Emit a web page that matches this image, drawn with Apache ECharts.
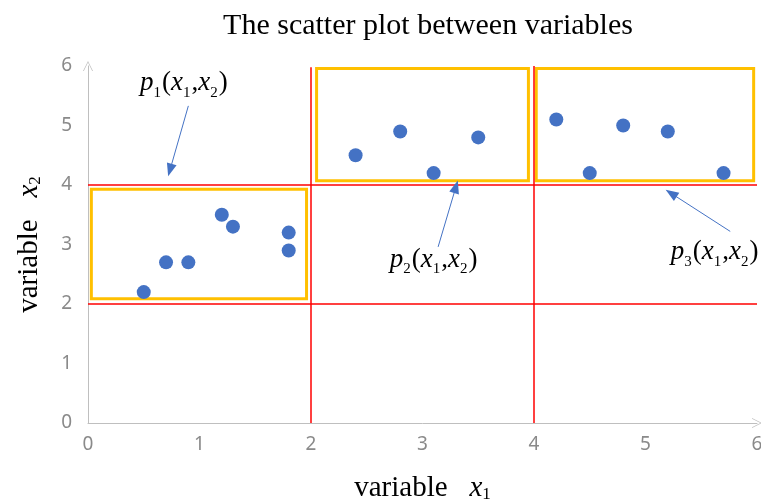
<!DOCTYPE html>
<html>
<head>
<meta charset="utf-8">
<script src="https://cdn.jsdelivr.net/npm/echarts@6/dist/echarts.min.js"></script>
<style>html,body{margin:0;padding:0;background:#fff}#c{width:761px;height:499px}</style>
</head>
<body>
<div id="c"></div>
<script>
// Data points
const x1Values = [0.5, 0.7, 0.9, 1.2, 1.3, 1.8, 1.8, 2.4, 2.8, 3.1, 3.5, 4.2, 4.5, 4.8, 5.2, 5.7];
const x2Values = [2.2, 2.7, 2.7, 3.5, 3.3, 3.2, 2.9, 4.5, 4.9, 4.2, 4.8, 5.1, 4.2, 5.0, 4.9, 4.2];
const xTicks = [0, 1, 2, 3, 4, 5, 6];
const yTicks = [0, 1, 2, 3, 4, 5, 6];
// Red partition lines [x1,y1,x2,y2]
const redLines = [[2, 0, 2, 5.98], [4, 0, 4, 6], [0, 4, 6, 4], [0, 2, 6, 2]];
// Yellow boxes [xmin, ymin, xmax, ymax]
const boxes = [[0.03, 2.09, 1.96, 3.93], [2.05, 4.07, 3.95, 5.96], [4.02, 4.07, 5.97, 5.96]];
// Annotation labels and arrows
const labelNames = ['1', '2', '3'];
const labelPos = [[0.86, 5.70], [3.10, 2.74], [5.62, 2.86]];
const arrows = [[0.90, 5.33, 0.735, 4.25], [3.14, 2.96, 3.30, 3.97], [5.76, 3.22, 5.23, 3.86]];

const serif = 'Liberation Serif';
const rich = {
  i: {fontFamily: serif, fontStyle: 'italic', fontSize: 27, color: '#000', textBorderWidth: 0},
  s: {fontFamily: serif, fontSize: 15, color: '#000', verticalAlign: 'bottom', padding: [0, 1, -4, 0], textBorderWidth: 0},
  n: {fontFamily: serif, fontSize: 27, color: '#000', textBorderWidth: 0}
};
const richName = {
  t: {fontFamily: serif, fontSize: 29, color: '#000'},
  i: {fontFamily: serif, fontStyle: 'italic', fontSize: 29, color: '#000'},
  s: {fontFamily: serif, fontSize: 17, color: '#000', verticalAlign: 'bottom'}
};

const chart = echarts.init(document.getElementById('c'), null, {renderer: 'canvas'});
const chevron = 'path://M0,10 L5,0 L10,10 L9.2,10 L5,1.6 L0.8,10 Z';
chart.setOption({
  animation: false,
  title: {
    text: 'The scatter plot between variables',
    left: 423, top: 6, textAlign: 'center',
    textStyle: {fontFamily: serif, fontSize: 30, fontWeight: 'normal', color: '#000'}
  },
  grid: {left: 88, right: 4, top: 66, bottom: 76, outerBoundsMode: 'none', containLabel: false},
  xAxis: {
    type: 'value', min: xTicks[0], max: xTicks[xTicks.length - 1], interval: 1,
    name: '{t|variable   }{i|x}{s|1}', nameLocation: 'middle', nameGap: 51,
    nameTextStyle: {rich: richName},
    axisLine: {show: true, symbol: ['none', chevron], symbolSize: [14, 10], lineStyle: {color: '#BFBFBF', width: 1}},
    axisTick: {show: false},
    splitLine: {show: false},
    axisLabel: {color: '#8A8A8A', fontSize: 19, fontFamily: 'Noto Sans', margin: 12}
  },
  yAxis: {
    type: 'value', min: yTicks[0], max: yTicks[yTicks.length - 1], interval: 1,
    name: '{t|variable   }{i|x}{s|2}', nameLocation: 'middle', nameGap: 44,
    nameTextStyle: {rich: richName},
    axisLine: {show: true, symbol: ['none', chevron], symbolSize: [14, 10], lineStyle: {color: '#BFBFBF', width: 1}},
    axisTick: {show: false},
    splitLine: {show: false},
    axisLabel: {color: '#8A8A8A', fontSize: 19, fontFamily: 'Noto Sans', margin: 16}
  },
  series: [
    {
      type: 'scatter', silent: true, symbolSize: 0, data: [],
      markLine: {
        silent: true, symbol: ['none', 'none'], label: {show: false},
        lineStyle: {color: '#FF0000', width: 1.5, type: 'solid'},
        data: redLines.map(l => [{coord: [l[0], l[1]]}, {coord: [l[2], l[3]]}])
      },
      markArea: {
        silent: true,
        itemStyle: {color: 'rgba(0,0,0,0)', borderColor: '#FFC000', borderWidth: 3},
        data: boxes.map(b => [{coord: [b[0], b[1]]}, {coord: [b[2], b[3]]}])
      }
    },
    {
      type: 'scatter', silent: true, symbolSize: 0, data: [],
      markLine: {
        silent: true, symbol: ['none', 'triangle'], symbolSize: [10, 13], label: {show: false},
        lineStyle: {color: '#4472C4', width: 1, type: 'solid'},
        itemStyle: {color: '#4472C4'},
        data: arrows.map(a => [{coord: [a[0], a[1]]}, {coord: [a[2], a[3]]}])
      }
    },
    {
      type: 'scatter', silent: true, symbolSize: 14,
      itemStyle: {color: '#4472C4', opacity: 1},
      data: x1Values.map((x, k) => [x, x2Values[k]]),
      z: 5
    },
    {
      type: 'scatter', silent: true, symbolSize: 1,
      itemStyle: {color: 'rgba(255,255,255,0)'},
      data: labelPos.map((p, k) => ({value: p, name: labelNames[k]})),
      label: {
        show: true, position: 'top', distance: 0, verticalAlign: 'middle', align: 'center',
        color: '#000', opacity: 1, textBorderWidth: 0,
        formatter: p => '{i|p}{s|' + p.name + '}{n|(}{i|x}{s|1}{n|,}{i|x}{s|2}{n|)}',
        rich: rich
      },
      z: 6
    }
  ]
});
</script>
</body>
</html>
